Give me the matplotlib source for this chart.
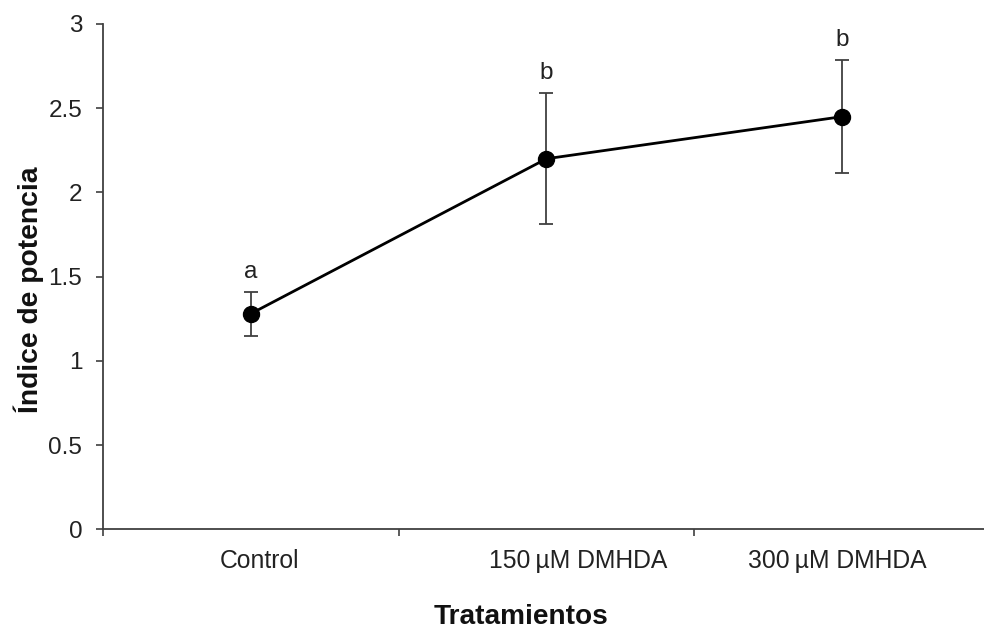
import matplotlib
matplotlib.use("Agg")
import matplotlib.pyplot as plt

plt.rcParams['font.family'] = ['Liberation Sans', 'DejaVu Sans']

tratamientos = ["Control", "150\u2009\u00b5M DMHDA", "300\u2009\u00b5M DMHDA"]
indice = [1.28, 2.20, 2.45]
error = [0.13, 0.39, 0.335]
letras = ["a", "b", "b"]

fig = plt.figure(figsize=(9.84, 6.29), dpi=100)
ax = fig.add_axes([103 / 984, 1 - 529.3 / 629, 881 / 984, 505.3 / 629])

x = list(range(len(tratamientos)))
ax.errorbar(x, indice, yerr=error, fmt='none', ecolor='#404040',
            elinewidth=1.3, capsize=5, capthick=1.3, zorder=2)
ax.plot(x, indice, color='black', lw=2.0, marker='o', ms=11.5,
        mfc='black', mec='black', zorder=3)

for xi, yi, ei, l in zip(x, indice, error, letras):
    ax.annotate(l, (xi, yi + ei), xytext=(0, 10), textcoords='offset points',
                ha='center', va='baseline', fontsize=17.5, color='#222222')

ax.set_xlim(-0.5, 2.48)
ax.set_ylim(0, 3)
ax.set_yticks([0, 0.5, 1, 1.5, 2, 2.5, 3])
ax.set_yticklabels(['0', '0.5', '1', '1.5', '2', '2.5', '3'])
ax.set_xticks([-0.5, 0.5, 1.5])
ax.set_xticklabels([])

# category names under the axis, nudged sideways a bit (in points)
shifts = [6.5, 23, -3.5]
for xi, nombre, dx in zip(x, tratamientos, shifts):
    ax.annotate(nombre, (xi, 0), xytext=(dx, -23), textcoords='offset points',
                ha='center', va='center', fontsize=17.8, color='#222222',
                annotation_clip=False)

for s in ['top', 'right']:
    ax.spines[s].set_visible(False)
for s in ['left', 'bottom']:
    ax.spines[s].set_color('#404040')
    ax.spines[s].set_linewidth(1.3)

ax.tick_params(axis='y', direction='out', length=5, width=1.2, color='#404040',
               labelsize=17.5, pad=10, labelcolor='#222222')
ax.tick_params(axis='x', direction='out', length=5, width=1.2, color='#404040')

fig.text(521 / 984, 1 - 617 / 629, "Tratamientos", ha='center', va='center',
         fontsize=20.2, fontweight='bold', color='#111111')
fig.text(29 / 984, 1 - 290 / 629, "\u00cdndice de potencia", ha='center',
         va='center', rotation=90, fontsize=20.3, fontweight='bold',
         color='#111111')

fig.savefig('out.png', dpi=100)
